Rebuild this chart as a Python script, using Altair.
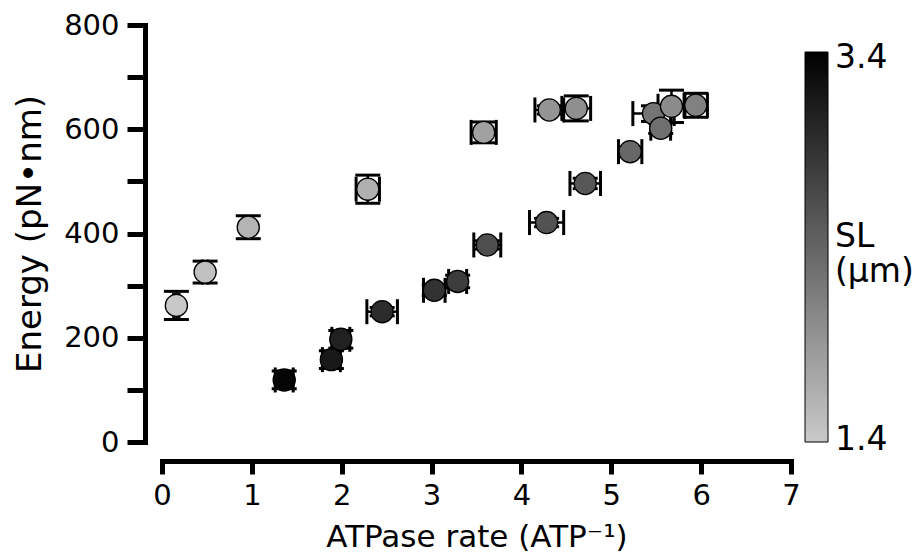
import altair as alt
import pandas as pd

# ATPase rate (ATP^-1), energy (pN·nm), their errors, and sarcomere length (µm)
rate = [0.16, 0.48, 0.96, 2.29, 3.58, 4.31, 4.61, 5.47, 5.67, 5.94, 5.55,
        5.21, 4.71, 4.28, 3.62, 3.29, 3.03, 2.45, 1.99, 1.885, 1.36]
energy = [262, 326, 412, 485, 594, 637, 640, 630, 644, 646, 602,
          557, 496, 421, 378, 308, 291, 250, 197, 158, 119]
rate_err = [0.03, 0.03, 0.03, 0.13, 0.14, 0.16, 0.16, 0.23, 0.15, 0.13, 0.11,
            0.13, 0.17, 0.19, 0.15, 0.10, 0.12, 0.17, 0.10, 0.10, 0.10]
energy_err = [27, 21, 22, 27, 20, 8, 24, 15, 31, 23, 10,
              8, 10, 8, 8, 12, 10, 8, 17, 17, 17]
sl = [1.40, 1.48, 1.60, 1.64, 1.80, 1.93, 1.98, 2.24, 2.02, 2.12, 2.30,
      2.38, 2.55, 2.60, 2.64, 2.82, 2.92, 2.98, 3.10, 3.18, 3.38]

x_ticks = [0, 1, 2, 3, 4, 5, 6, 7]
y_ticks = [0, 100, 200, 300, 400, 500, 600, 700, 800]
# colour bar: end values plus the slot where the bar's title sits
sl_marks = [1.4, 2.46, 3.4]
sl_title = ["SL", "(μm)"]

df = pd.DataFrame({
    "rate": rate, "energy": energy,
    "rate_err": rate_err, "energy_err": energy_err, "sl": sl,
})

FONT = "DejaVu Sans"

x_scale = alt.Scale(domain=[0, 7], nice=False, zero=False)
y_scale = alt.Scale(domain=[0, 800], nice=False, zero=False)

x_axis = alt.Axis(
    values=x_ticks, title="ATPase rate (ATP⁻¹)", offset=19,
    domainColor="black", domainWidth=5, domainCap="square",
    tickColor="black", tickWidth=5, tickSize=13, labelFlush=False,
    labelFontSize=29, labelPadding=7, labelColor="black", labelFont=FONT,
    titleFontSize=31, titleFontWeight="normal", titleColor="black",
    titleFont=FONT, titlePadding=12, grid=False,
)
y_axis = alt.Axis(
    values=y_ticks, title="Energy (pN•nm)", offset=17,
    labelExpr="datum.value % 200 === 0 ? datum.label : ''",
    domainColor="black", domainWidth=5, domainCap="square",
    tickColor="black", tickWidth=5, tickSize=18, labelFlush=False,
    labelFontSize=29, labelPadding=8, labelColor="black", labelFont=FONT,
    titleFontSize=34, titleFontWeight="normal", titleColor="black",
    titleFont=FONT, titlePadding=16, grid=False,
)

base = alt.Chart(df).transform_calculate(
    xlo="datum.rate - datum.rate_err",
    xhi="datum.rate + datum.rate_err",
    ylo="datum.energy - datum.energy_err",
    yhi="datum.energy + datum.energy_err",
)

X = lambda f: alt.X(f, type="quantitative", scale=x_scale, axis=x_axis)
Y = lambda f: alt.Y(f, type="quantitative", scale=y_scale, axis=y_axis)

# horizontal error bars and their caps
x_bar = base.mark_rule(color="black", strokeWidth=2.5).encode(
    x=X("xlo"), x2="xhi:Q", y=Y("energy"))
x_cap_lo = base.mark_tick(orient="vertical", color="black", size=25,
                          thickness=3, opacity=1).encode(x=X("xlo"), y=Y("energy"))
x_cap_hi = base.mark_tick(orient="vertical", color="black", size=25,
                          thickness=3, opacity=1).encode(x=X("xhi"), y=Y("energy"))

# vertical error bars and their caps
y_bar = base.mark_rule(color="black", strokeWidth=2.5).encode(
    x=X("rate"), y=Y("ylo"), y2="yhi:Q")
y_cap_lo = base.mark_tick(orient="horizontal", color="black", size=25,
                          thickness=3, opacity=1).encode(x=X("rate"), y=Y("ylo"))
y_cap_hi = base.mark_tick(orient="horizontal", color="black", size=25,
                          thickness=3, opacity=1).encode(x=X("rate"), y=Y("yhi"))

title_expr = (
    "datum.value > 2 && datum.value < 3 ? "
    f"['{sl_title[0]}', '{sl_title[1]}'] : datum.label"
)

points = base.mark_circle(size=490, opacity=1, stroke="black",
                          strokeWidth=1.3).encode(
    x=X("rate"),
    y=Y("energy"),
    color=alt.Color(
        "sl:Q",
        scale=alt.Scale(domain=[1.39, 3.43], range=["#c9c9c9", "#000000"],
                        interpolate="rgb"),
        legend=alt.Legend(
            orient="none", legendX=643, legendY=27, direction="vertical",
            gradientLength=390, gradientThickness=23,
            gradientStrokeColor="black", gradientStrokeWidth=1,
            values=sl_marks, format=".1f", labelExpr=title_expr,
            labelFontSize=33, labelOffset=7, labelColor="black",
            labelFont=FONT, labelOverlap=False,
            title=None, padding=0,
        ),
    ),
)

chart = alt.layer(
    x_bar, y_bar, x_cap_lo, x_cap_hi, y_cap_lo, y_cap_hi, points
).properties(
    width=629, height=417,
    background="white",
    autosize=alt.AutoSizeParams(type="none"),
    padding={"left": 162, "top": 25, "right": 121, "bottom": 110},
).configure_view(stroke=None)

chart.save("out.html", embed_options={"renderer": "svg", "actions": False})
